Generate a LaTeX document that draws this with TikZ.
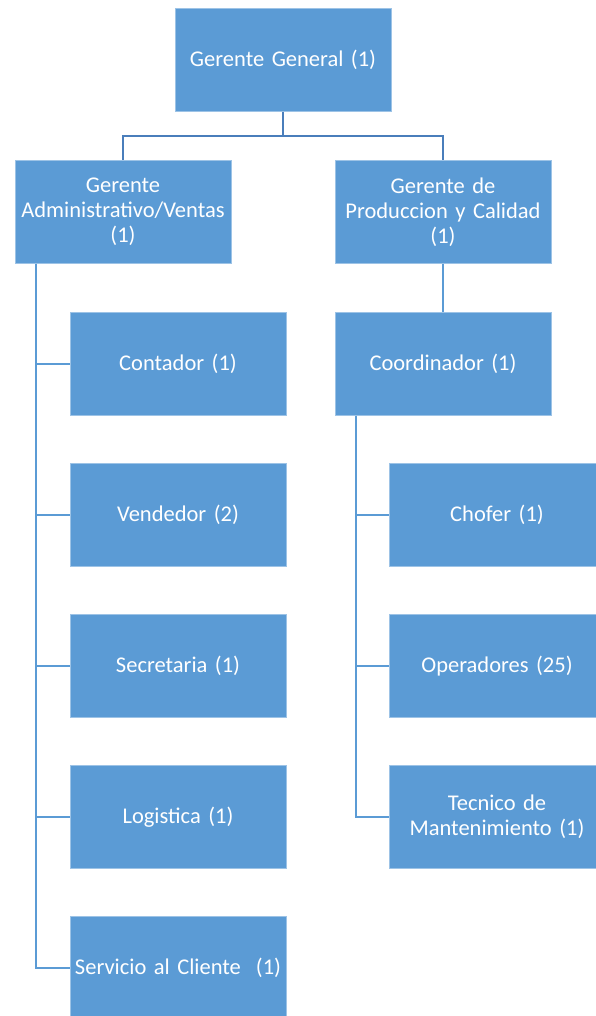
\documentclass[tikz,border=0pt]{standalone}
\usepackage{fontspec}
\setmainfont{Carlito}
\definecolor{boxblue}{HTML}{5B9BD5}
\definecolor{lineblue}{HTML}{4A7EBB}
\definecolor{spineblue}{HTML}{5B9BD5}
\begin{document}
\begin{tikzpicture}[x=1pt,y=-1pt,
  orgbox/.style={rectangle, fill=boxblue, draw=boxblue!60!white, line width=0.6pt,
    minimum width=216pt, minimum height=103pt, inner sep=1pt,
    text=white, font=\fontsize{22.5}{25}\selectfont, align=center, text width=214pt},
  topline/.style={draw=lineblue, line width=2.2pt},
  sideline/.style={draw=spineblue, line width=2.2pt}]
\useasboundingbox (0,0) rectangle (596,1016);
\clip (0,0) rectangle (596,1016);
\fill[white] (0,0) rectangle (596,1016);
% nodes
\node[orgbox] (gg) at (283,60) {Gerente General (1)};
\node[orgbox] (ga) at (123,212) {Gerente\\Administrativo/Ventas\\(1)};
\node[orgbox] (gp) at (443,212) {Gerente de\\Produccion y Calidad\\(1)};
\node[orgbox] (co) at (443,364) {Coordinador (1)};
\node[orgbox] (c1) at (178,364) {Contador (1)};
\node[orgbox] (c2) at (178,515) {Vendedor (2)};
\node[orgbox] (c3) at (178,666) {Secretaria (1)};
\node[orgbox] (c4) at (178,817) {Logistica (1)};
\node[orgbox] (c5) at (178,968) {Servicio al Cliente\ \ (1)};
\node[orgbox] (r1) at (497,515) {Chofer (1)};
\node[orgbox] (r2) at (497,666) {Operadores (25)};
\node[orgbox] (r3) at (497,817) {Tecnico de\\Mantenimiento (1)};
% connectors
\draw[topline] (gg.south) -- ++(0,24) -| (ga.north);
\draw[topline] (gg.south) -- ++(0,24) -| (gp.north);
\draw[sideline] (gp.south) -- (co.north);
\coordinate (ls) at ([xshift=21pt]ga.south west);
\coordinate (rs) at ([xshift=21pt]co.south west);
\draw[sideline] (ls) |- (c1.west);
\draw[sideline] (ls) |- (c2.west);
\draw[sideline] (ls) |- (c3.west);
\draw[sideline] (ls) |- (c4.west);
\draw[sideline] (ls) |- (c5.west);
\draw[sideline] (rs) |- (r1.west);
\draw[sideline] (rs) |- (r2.west);
\draw[sideline] (rs) |- (r3.west);
\end{tikzpicture}
\end{document}
